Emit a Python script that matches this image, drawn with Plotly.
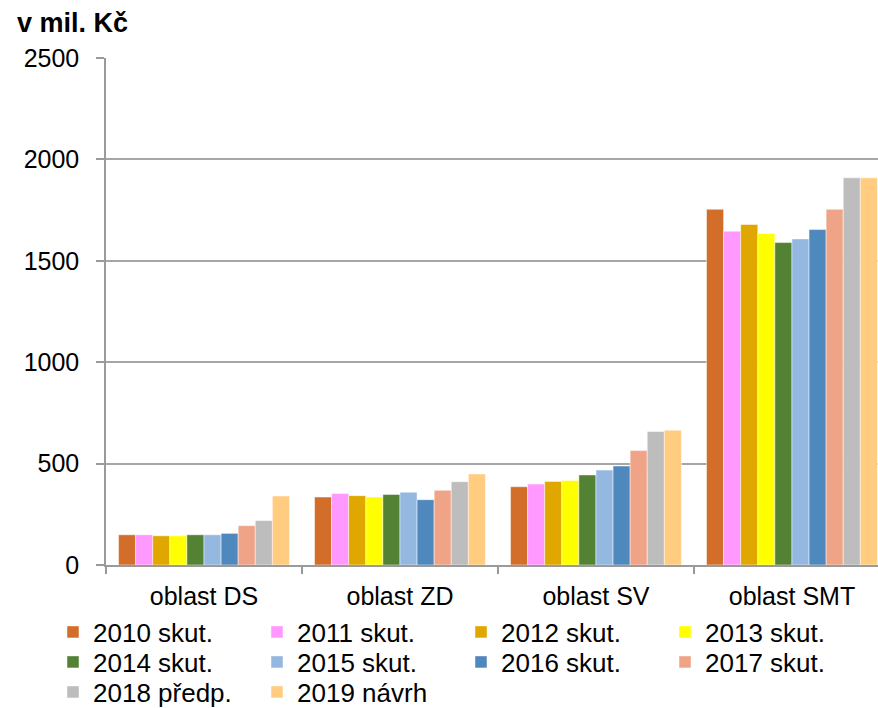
import plotly.graph_objects as go

categories = ["oblast DS", "oblast ZD", "oblast SV", "oblast SMT"]
series_names = ["2010 skut.", "2011 skut.", "2012 skut.", "2013 skut.", "2014 skut.",
                "2015 skut.", "2016 skut.", "2017 skut.", "2018 předp.", "2019 návrh"]
v2010 = [149, 335, 386, 1754]
v2011 = [149, 353, 399, 1646]
v2012 = [144, 342, 412, 1679]
v2013 = [144, 335, 417, 1635]
v2014 = [149, 348, 444, 1590]
v2015 = [149, 359, 468, 1608]
v2016 = [156, 322, 488, 1654]
v2017 = [194, 368, 564, 1754]
v2018 = [219, 411, 658, 1909]
v2019 = [340, 449, 665, 1909]
values = [v2010, v2011, v2012, v2013, v2014, v2015, v2016, v2017, v2018, v2019]
colors = ["#D26E2A", "#FF99FF", "#E0A700", "#FFFF00", "#548235",
          "#95B8E0", "#4F88BC", "#F0A487", "#BDBDBD", "#FFCC80"]
y_ticks = [0, 500, 1000, 1500, 2000, 2500]

FONT = "Liberation Sans, Arial, sans-serif"

W, H = 878, 708
L, R, T, B = 106, 0, 58, 143
PW, PH = W - L - R, H - T - B

legend_ids = ["legend"] * 4 + ["legend2"] * 4 + ["legend3"] * 2

fig = go.Figure()
for name, vals, col, lg in zip(series_names, values, colors, legend_ids):
    fig.add_trace(go.Bar(
        x=categories, y=vals, name=name, legend=lg,
        marker=dict(color=col, line=dict(color="rgba(255,255,255,0.6)", width=0.8)),
    ))

def legend_at(row_center_y):
    return dict(
        orientation="h", xref="paper", yref="paper",
        x=(53 - L) / PW, y=(H - B - row_center_y) / PH,
        xanchor="left", yanchor="middle",
        entrywidth=159, entrywidthmode="pixels",
        font=dict(family=FONT, size=26, color="#000000"),
        itemwidth=30, tracegroupgap=0,
        bgcolor="rgba(0,0,0,0)",
    )

fig.update_layout(
    width=W, height=H,
    margin=dict(l=L, r=R, t=T, b=B, autoexpand=False),
    paper_bgcolor="white", plot_bgcolor="white",
    barmode="group", bargap=0.128, bargroupgap=0,
    font=dict(family=FONT, size=25, color="#000000"),
    showlegend=True,
    legend=legend_at(632),
    legend2=legend_at(662),
    legend3=legend_at(692),
    annotations=[dict(
        text="<b>v mil. Kč</b>", xref="paper", yref="paper",
        x=(15 - L) / PW, y=(H - B - 23) / PH, xanchor="left", yanchor="middle",
        showarrow=False, font=dict(family=FONT, size=27, color="#000000"),
    )],
)

fig.update_xaxes(
    type="category", range=[-0.5, 3.439],
    showline=True, linecolor="#9a9a9a", linewidth=1.5,
    ticks="outside", tickson="boundaries", ticklen=7, tickcolor="#9a9a9a", tickwidth=1.5,
    showgrid=False, tickfont=dict(size=25), ticklabelstandoff=8,
)
fig.update_yaxes(
    range=[0, 2500], tickvals=y_ticks, ticktext=[str(v) for v in y_ticks],
    showline=True, linecolor="#9a9a9a", linewidth=1.5,
    ticks="outside", ticklen=8, tickcolor="#9a9a9a", tickwidth=1.5,
    showgrid=True, gridcolor="#a6a6a6", gridwidth=1.5,
    zeroline=False, tickfont=dict(size=25), ticklabelstandoff=12,
)

fig.write_html("out.html",
               config={"displayModeBar": False},
               post_script="document.body.style.margin='0px';document.body.style.overflow='hidden';")
